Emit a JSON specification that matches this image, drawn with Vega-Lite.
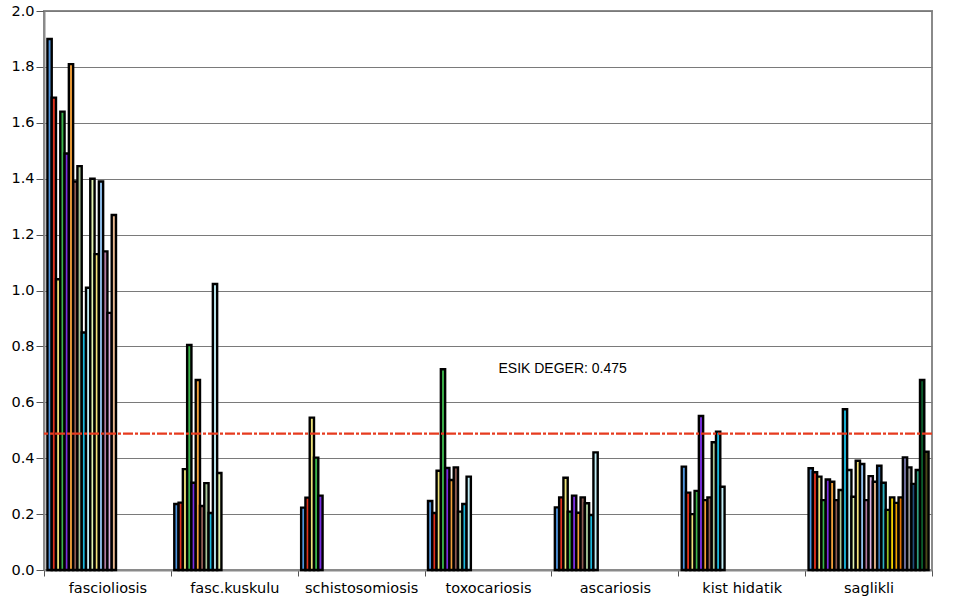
{
  "$schema": "https://vega.github.io/schema/vega-lite/v6.json",
  "width": 888,
  "height": 559,
  "autosize": "none",
  "padding": {"left": 44, "top": 11, "right": 30, "bottom": 32},
  "background": "white",
  "config": {
    "font": "DejaVu Sans",
    "view": {"stroke": "#8a8a8a", "strokeWidth": 2}
  },
  "datasets": {
    "bars": [
      {"g":"fascioliosis","s":1,"v":1.90},{"g":"fascioliosis","s":2,"v":1.69},{"g":"fascioliosis","s":3,"v":1.04},{"g":"fascioliosis","s":4,"v":1.64},
      {"g":"fascioliosis","s":5,"v":1.49},{"g":"fascioliosis","s":6,"v":1.81},{"g":"fascioliosis","s":7,"v":1.39},{"g":"fascioliosis","s":8,"v":1.445},
      {"g":"fascioliosis","s":9,"v":0.85},{"g":"fascioliosis","s":10,"v":1.01},{"g":"fascioliosis","s":11,"v":1.40},{"g":"fascioliosis","s":12,"v":1.13},
      {"g":"fascioliosis","s":13,"v":1.39},{"g":"fascioliosis","s":14,"v":1.14},{"g":"fascioliosis","s":15,"v":0.92},{"g":"fascioliosis","s":16,"v":1.27},
      {"g":"fasc.kuskulu","s":1,"v":0.236},{"g":"fasc.kuskulu","s":2,"v":0.241},{"g":"fasc.kuskulu","s":3,"v":0.361},{"g":"fasc.kuskulu","s":4,"v":0.805},
      {"g":"fasc.kuskulu","s":5,"v":0.312},{"g":"fasc.kuskulu","s":6,"v":0.68},{"g":"fasc.kuskulu","s":7,"v":0.229},{"g":"fasc.kuskulu","s":8,"v":0.311},
      {"g":"fasc.kuskulu","s":9,"v":0.204},{"g":"fasc.kuskulu","s":10,"v":1.023},{"g":"fasc.kuskulu","s":11,"v":0.347},
      {"g":"schistosomiosis","s":1,"v":0.223},{"g":"schistosomiosis","s":2,"v":0.259},{"g":"schistosomiosis","s":3,"v":0.545},{"g":"schistosomiosis","s":4,"v":0.402},{"g":"schistosomiosis","s":5,"v":0.266},
      {"g":"toxocariosis","s":1,"v":0.247},{"g":"toxocariosis","s":2,"v":0.204},{"g":"toxocariosis","s":3,"v":0.355},{"g":"toxocariosis","s":4,"v":0.718},
      {"g":"toxocariosis","s":5,"v":0.365},{"g":"toxocariosis","s":6,"v":0.322},{"g":"toxocariosis","s":7,"v":0.367},{"g":"toxocariosis","s":8,"v":0.209},
      {"g":"toxocariosis","s":9,"v":0.236},{"g":"toxocariosis","s":10,"v":0.334},
      {"g":"ascariosis","s":1,"v":0.224},{"g":"ascariosis","s":2,"v":0.26},{"g":"ascariosis","s":3,"v":0.33},{"g":"ascariosis","s":4,"v":0.209},
      {"g":"ascariosis","s":5,"v":0.266},{"g":"ascariosis","s":6,"v":0.205},{"g":"ascariosis","s":7,"v":0.26},{"g":"ascariosis","s":8,"v":0.239},
      {"g":"ascariosis","s":9,"v":0.197},{"g":"ascariosis","s":10,"v":0.421},
      {"g":"kist hidatik","s":1,"v":0.37},{"g":"kist hidatik","s":2,"v":0.277},{"g":"kist hidatik","s":3,"v":0.2},{"g":"kist hidatik","s":4,"v":0.283},
      {"g":"kist hidatik","s":5,"v":0.551},{"g":"kist hidatik","s":6,"v":0.25},{"g":"kist hidatik","s":7,"v":0.26},{"g":"kist hidatik","s":8,"v":0.457},
      {"g":"kist hidatik","s":9,"v":0.495},{"g":"kist hidatik","s":10,"v":0.298},
      {"g":"saglikli","s":1,"v":0.364},{"g":"saglikli","s":2,"v":0.35},{"g":"saglikli","s":3,"v":0.334},{"g":"saglikli","s":4,"v":0.25},
      {"g":"saglikli","s":5,"v":0.324},{"g":"saglikli","s":6,"v":0.316},{"g":"saglikli","s":7,"v":0.25},{"g":"saglikli","s":8,"v":0.286},
      {"g":"saglikli","s":9,"v":0.575},{"g":"saglikli","s":10,"v":0.358},{"g":"saglikli","s":11,"v":0.262},{"g":"saglikli","s":12,"v":0.391},
      {"g":"saglikli","s":13,"v":0.379},{"g":"saglikli","s":14,"v":0.25},{"g":"saglikli","s":15,"v":0.336},{"g":"saglikli","s":16,"v":0.316},
      {"g":"saglikli","s":17,"v":0.373},{"g":"saglikli","s":18,"v":0.312},{"g":"saglikli","s":19,"v":0.215},{"g":"saglikli","s":20,"v":0.26},
      {"g":"saglikli","s":21,"v":0.24},{"g":"saglikli","s":22,"v":0.26},{"g":"saglikli","s":23,"v":0.403},{"g":"saglikli","s":24,"v":0.367},
      {"g":"saglikli","s":25,"v":0.308},{"g":"saglikli","s":26,"v":0.358},{"g":"saglikli","s":27,"v":0.68},{"g":"saglikli","s":28,"v":0.423}
    ],
    "threshold": [{"t": 0.488, "label": "ESIK DEGER: 0.475", "g": "ascariosis", "ty": 0.72}]
  },
  "layer": [
    {
      "data": {"name": "bars"},
      "mark": {"type": "bar", "stroke": "black", "strokeWidth": 2.4},
      "encoding": {
        "x": {
          "field": "g", "type": "nominal", "sort": null,
          "scale": {"domain": ["fascioliosis","fasc.kuskulu","schistosomiosis","toxocariosis","ascariosis","kist hidatik","saglikli"], "paddingInner": 0, "paddingOuter": 0},
          "axis": {"title": null, "labelAngle": 0, "labelFontSize": 14.5, "labelColor": "black", "labelPadding": 5, "tickBand": "extent", "tickSize": 6, "tickColor": "#555", "domainColor": "#8a8a8a", "domainWidth": 2}
        },
        "xOffset": {
          "field": "s", "type": "ordinal",
          "scale": {"domain": [1,2,3,4,5,6,7,8,9,10,11,12,13,14,15,16,17,18,19,20,21,22,23,24,25,26,27,28], "paddingInner": 0, "paddingOuter": 0.8}
        },
        "y": {
          "field": "v", "type": "quantitative",
          "scale": {"domain": [0, 2], "nice": false},
          "axis": {"title": null, "values": [0,0.2,0.4,0.6,0.8,1.0,1.2,1.4,1.6,1.8,2.0], "format": ".1f", "labelFontSize": 14.5, "labelColor": "black", "labelPadding": 2, "tickSize": 8, "tickColor": "#555", "domainColor": "#8a8a8a", "domainWidth": 2, "grid": true, "gridColor": "#7a7a7a", "gridWidth": 1}
        },
        "color": {
          "field": "s", "type": "ordinal", "legend": null,
          "scale": {
            "domain": [1,2,3,4,5,6,7,8,9,10,11,12,13,14,15,16,17,18,19,20,21,22,23,24,25,26,27,28],
            "range": ["#4f94dc","#e0321e","#ece27a","#3cb44b","#7a2fe0","#f2a03a","#8c5a52","#a9c79a","#1ab8dc","#c2eef6","#e2f2b0","#f6e27a","#92c2f0","#b07aa0","#dcb0e0","#e8b890","#3a78b8","#2eb0c0","#98c020","#f0d000","#f0a000","#e07000","#7474a4","#959595","#1f4e79","#30a080","#0a5a2a","#4a4a1a"]
          }
        }
      }
    },
    {
      "data": {"name": "threshold"},
      "mark": {"type": "rule", "color": "#e63b1f", "strokeWidth": 2.2, "strokeDash": [10, 2, 3, 2]},
      "encoding": {"y": {"field": "t", "type": "quantitative"}}
    },
    {
      "data": {"name": "threshold"},
      "mark": {"type": "text", "align": "right", "baseline": "middle", "dx": 12, "fontSize": 14, "font": "Liberation Sans", "color": "black"},
      "encoding": {
        "x": {"field": "g", "type": "nominal"},
        "y": {"field": "ty", "type": "quantitative"},
        "text": {"field": "label"}
      }
    }
  ]
}
